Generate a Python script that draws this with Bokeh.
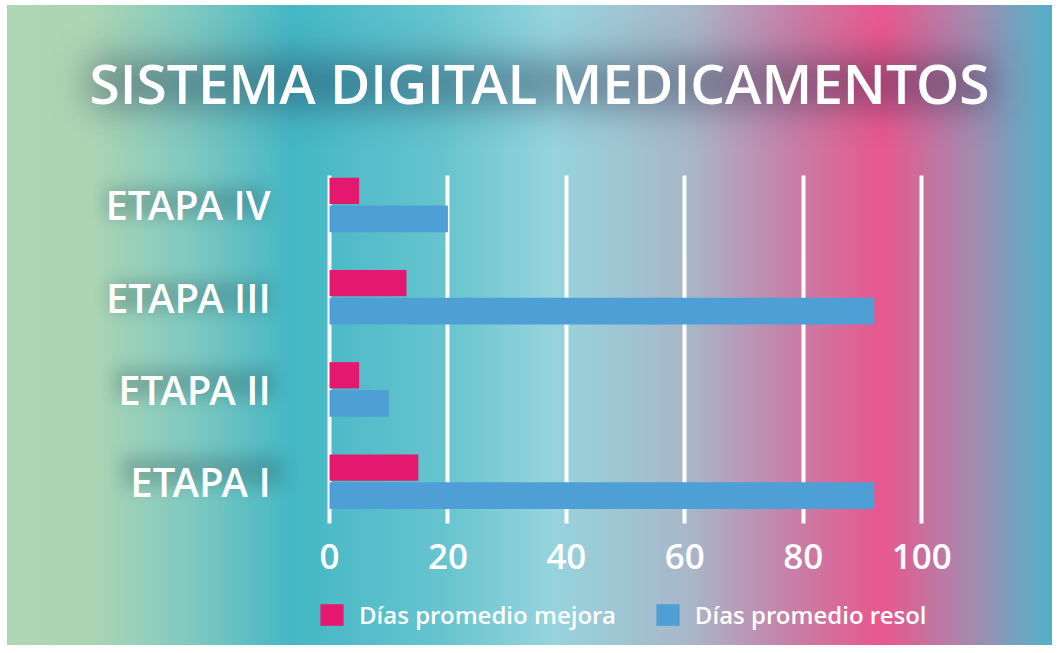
from bokeh.plotting import figure
from bokeh.models import Range1d, FixedTicker, Legend, LegendItem, Label, InlineStyleSheet, ColumnDataSource
from bokeh.transform import dodge
from bokeh.embed import file_html
from bokeh.resources import INLINE

# ---- data ----
categories = ["ETAPA I", "ETAPA II", "ETAPA III", "ETAPA IV"]
mejora = [15, 5, 13, 5]
resol = [92, 10, 92, 20]
x_ticks = [0, 20, 40, 60, 80, 100]
series_names = ["Días promedio mejora", "Días promedio resol"]
title_text = "SISTEMA DIGITAL MEDICAMENTOS"

# ---- style ----
FONT = "Open Sans SemiBold"
PINK = "#e5186f"
BLUE = "#4f9fd7"

css = """
:host {
  position: relative;
  z-index: 0;
  overflow: hidden;
  background:
    linear-gradient(to right, #ffffff 7px, rgba(255,255,255,0) 7px),
    linear-gradient(to bottom, #ffffff 5px, rgba(255,255,255,0) 5px),
    linear-gradient(to right, #aed6b5 0%, #acd5b4 8.7%, #7ec8c0 18.3%, #44b7c5 27.8%, #66c4ce 42%,
                    #96d4dd 52.5%, #a9b5c8 65.8%, #c67fa7 75.3%, #e9578e 83.8%, #a58aaf 92.4%,
                    #5aaec6 99%, #57adc7 100%);
}
:host::before {
  content: "";
  position: absolute;
  z-index: -1;
  left: 88px; top: 58px; width: 905px; height: 50px;
  background: rgba(20, 25, 55, 0.36);
  filter: blur(18px);
  pointer-events: none;
}
:host::after {
  content: "";
  position: absolute;
  z-index: -1;
  left: -3000px; top: 0px; width: 160px; height: 30px;
  box-shadow: 3105px 187px 16px rgba(20,50,60,0.22),
              3110px 281px 16px rgba(20,50,60,0.22),
              3115px 368px 16px rgba(20,50,60,0.22),
              3122px 456px 16px rgba(20,50,60,0.22);
  pointer-events: none;
}
"""

n = len(categories)
ypos = list(range(n))
src = ColumnDataSource(dict(y=ypos, mejora=mejora, resol=resol))

# bar area: x -1.5..101.5, y -0.45..3.322 ; the frame covers the whole canvas
AREA_LEFT = -1.5
AREA_BOTTOM, AREA_TOP = -0.45, 3.322

p = figure(width=1052, height=645, output_backend="svg", toolbar_location=None, title=None,
           x_range=Range1d(-55.56, 122.09), y_range=Range1d(-1.777, 5.215),
           min_border_left=0, min_border_right=0, min_border_top=0, min_border_bottom=0,
           stylesheets=[InlineStyleSheet(css=css)])
p.background_fill_alpha = 0
p.border_fill_alpha = 0
p.outline_line_alpha = 0

p.xgrid.ticker = FixedTicker(ticks=x_ticks)
p.xgrid.grid_line_color = "white"
p.xgrid.grid_line_width = 4
p.xgrid.grid_line_alpha = 1
p.xgrid.cross_bounds = (AREA_BOTTOM, AREA_TOP)
p.ygrid.visible = False

r1 = p.hbar(y=dodge("y", 0.152, range=p.y_range), left=0, right="mejora", height=0.285,
            source=src, fill_color=PINK, line_color=None)
r2 = p.hbar(y=dodge("y", -0.152, range=p.y_range), left=0, right="resol", height=0.29,
            source=src, fill_color=BLUE, line_color=None)

for ax in (p.xaxis[0], p.yaxis[0]):
    ax.axis_line_alpha = 0
    ax.major_tick_line_alpha = 0
    ax.minor_tick_line_alpha = 0
    ax.major_tick_out = 0
    ax.major_tick_in = 0
    ax.minor_tick_out = 0
    ax.major_label_text_color = "white"
    ax.major_label_text_font = FONT

p.xaxis.fixed_location = AREA_BOTTOM
p.xaxis.ticker = FixedTicker(ticks=x_ticks)
p.xaxis.major_label_text_font_size = "35px"
p.xaxis.major_label_standoff = 21

p.yaxis.fixed_location = AREA_LEFT
p.yaxis.ticker = FixedTicker(ticks=ypos)
p.yaxis.major_label_overrides = {i: c for i, c in zip(ypos, categories)}
p.yaxis.major_label_text_font_size = "40px"
p.yaxis.major_label_standoff = 50

legend = Legend(items=[LegendItem(label=series_names[0], renderers=[r1]),
                       LegendItem(label=series_names[1], renderers=[r2])],
                orientation="horizontal", location=(317, 14),
                glyph_width=29, glyph_height=27, label_standoff=13, spacing=37,
                label_text_font=FONT, label_text_font_size="24px", label_text_color="white",
                padding=0, margin=0, background_fill_alpha=0, border_line_alpha=0)
p.add_layout(legend)

title = Label(x=539, y=563, x_units="screen", y_units="screen", text=title_text,
              text_align="center", text_baseline="middle", text_font=FONT,
              text_font_size="55px", text_color="white")
p.add_layout(title)

open("out.html", "w").write(file_html(p, INLINE))
